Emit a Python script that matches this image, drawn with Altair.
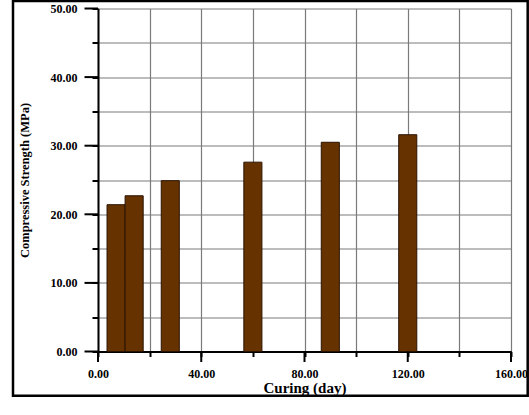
import altair as alt
import pandas as pd

days = [7, 14, 28, 60, 90, 120]
strength = [21.4, 22.7, 24.9, 27.6, 30.5, 31.6]
bar_halfwidth = 3.5

x_grid = [0, 20, 40, 60, 80, 100, 120, 140, 160]
x_major = [0, 40, 80, 120, 160]
y_grid = [0, 5, 10, 15, 20, 25, 30, 35, 40, 45, 50]
y_major = [0, 10, 20, 30, 40, 50]

FONT = "Liberation Serif"
W, H = 413, 343

df = pd.DataFrame({"day": days, "strength": strength})

xscale = alt.Scale(domain=[0, 160], nice=False, zero=False)
yscale = alt.Scale(domain=[0, 50], nice=False)

xaxis = alt.Axis(
    values=x_grid, title="Curing (day)", grid=True, gridColor="#7a7a7a", gridWidth=1.2,
    domainColor="black", domainWidth=2, tickColor="black", tickWidth=2, tickSize=5,
    labelExpr="datum.value % 40 == 0 ? format(datum.value, '.2f') : ''",
    labelFont=FONT, labelFontSize=12, labelFontWeight="bold", labelColor="black",
    labelPadding=12, labelFlush=False, labelOverlap=False,
    titleFont=FONT, titleFontSize=15, titleFontWeight="bold", titleColor="black",
    titleY=41, titleBaseline="alphabetic")
yaxis = alt.Axis(
    values=y_grid, title="Compressive Strength (MPa)", grid=True, gridColor="#7a7a7a", gridWidth=1.2,
    domainColor="black", domainWidth=2, tickColor="black", tickWidth=2, tickSize=6,
    labelExpr="datum.value % 10 == 0 ? format(datum.value, '.2f') : ''",
    labelFont=FONT, labelFontSize=12, labelFontWeight="bold", labelColor="black",
    labelPadding=15, labelOverlap=False,
    titleFont=FONT, titleFontSize=12.5, titleFontWeight="bold", titleColor="black",
    titleX=-74, titleY=H / 2, titleAngle=-90, titleAlign="center", titleBaseline="middle")

bars = alt.Chart(df).transform_calculate(
    x0=f"datum.day - {bar_halfwidth}", x1=f"datum.day + {bar_halfwidth}"
).mark_bar(fill="#663300", stroke="#2a1200", strokeWidth=1).encode(
    x=alt.X("x0:Q", scale=xscale, axis=xaxis),
    x2="x1:Q",
    y=alt.Y("strength:Q", scale=yscale, axis=yaxis),
    y2=alt.datum(0),
)

xmaj = alt.Chart(pd.DataFrame({"v": x_major})).mark_rule(color="black", strokeWidth=2).encode(
    x=alt.X("v:Q", scale=xscale, axis=xaxis), y=alt.value(H), y2=alt.value(H + 10.5))
ymaj = alt.Chart(pd.DataFrame({"v": y_major})).mark_rule(color="black", strokeWidth=2).encode(
    y=alt.Y("v:Q", scale=yscale, axis=yaxis), x=alt.value(-13.5), x2=alt.value(0))

border = alt.Chart(pd.DataFrame({"a": [0]})).mark_rect(
    fillOpacity=0, stroke="black", strokeWidth=2.5, clip=False
).encode(x=alt.value(-85), x2=alt.value(429.7), y=alt.value(-7.5), y2=alt.value(387.2))

chart = alt.layer(bars, xmaj, ymaj, border).properties(
    width=W, height=H,
    padding={"left": 98, "top": 8.5, "right": 18, "bottom": 63.5},
    autosize=alt.AutoSizeParams(type="none"),
    background="white",
).configure_view(strokeWidth=0)

chart.save("out.html", embed_options={"renderer": "svg", "actions": False})
